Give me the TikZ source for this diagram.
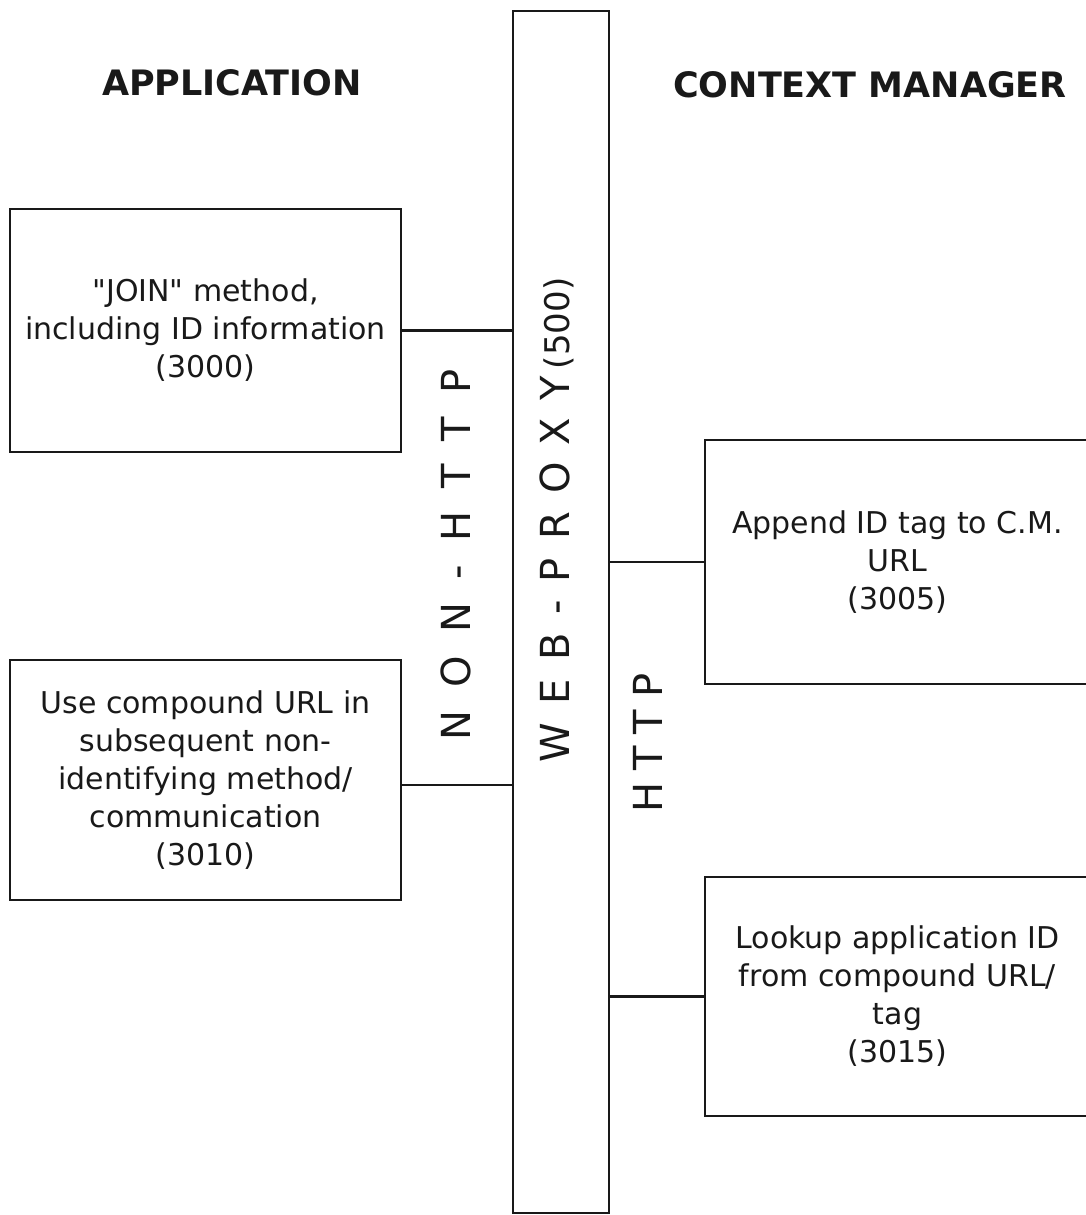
\documentclass[tikz,border=0pt]{standalone}
\usepackage{fontspec}
\setmainfont{DejaVu Sans}[Ligatures=TeXOff]
\usetikzlibrary{positioning}
\definecolor{ink}{RGB}{25,25,25}

\begin{document}
\begin{tikzpicture}[x=0.5pt, y=-0.5pt, ink, line width=1.3pt,
    stepbox/.style={draw, rectangle, inner sep=0pt, align=center, font=\fontsize{15}{19}\selectfont},
    title/.style={font=\bfseries\fontsize{17.5}{20}\selectfont},
    vlabel/.style={rotate=90, inner sep=0pt, font=\fontsize{20}{22}\selectfont}]

    \useasboundingbox (0,0) rectangle (1086,1215);

    % titles
    \node[title] (app) at (232,83) {APPLICATION};
    \node[title] (cm) at (870,85) {CONTEXT MANAGER};

    % web proxy bar
    \node[draw, rectangle, inner sep=0pt, minimum width=48pt, minimum height=601pt] (proxy) at (561,612) {};
    \node[vlabel] (proxylbl) at (557,520) {{\addfontfeature{LetterSpace=46}WEB-PROXY}\,{\fontsize{17}{20}\selectfont(500)}};
    \node[vlabel] (nonhttp) at (456,555) {\addfontfeature{LetterSpace=58}NON-HTTP};
    \node[vlabel] (http) at (648,743) {\addfontfeature{LetterSpace=30}HTTP};

    % application side
    \node[stepbox, minimum width=195.5pt, minimum height=121.5pt] (join) at (205.5,330.5)
        {"JOIN" method,\\ including ID information\\ (3000)};
    \node[stepbox, minimum width=195.5pt, minimum height=120pt] (use) at (205.5,780)
        {Use compound URL in\\ subsequent non-\\ identifying method/\\ communication\\ (3010)};

    % context manager side
    \node[stepbox, minimum width=192.5pt, minimum height=122pt] (append) at (897.5,562)
        {Append ID tag to C.M.\\ URL\\ (3005)};
    \node[stepbox, minimum width=192.5pt, minimum height=119.5pt] (lookup) at (897.5,996.5)
        {Lookup application ID\\ from compound URL/\\ tag\\ (3015)};

    % links to the proxy
    \draw (join.east) -- (join.east -| proxy.west);
    \draw ([yshift=-2.5pt]use.east) -- ([yshift=-2.5pt]use.east -| proxy.west);
    \draw (append.west) -- (append.west -| proxy.east);
    \draw (lookup.west) -- (lookup.west -| proxy.east);

\end{tikzpicture}
\end{document}
